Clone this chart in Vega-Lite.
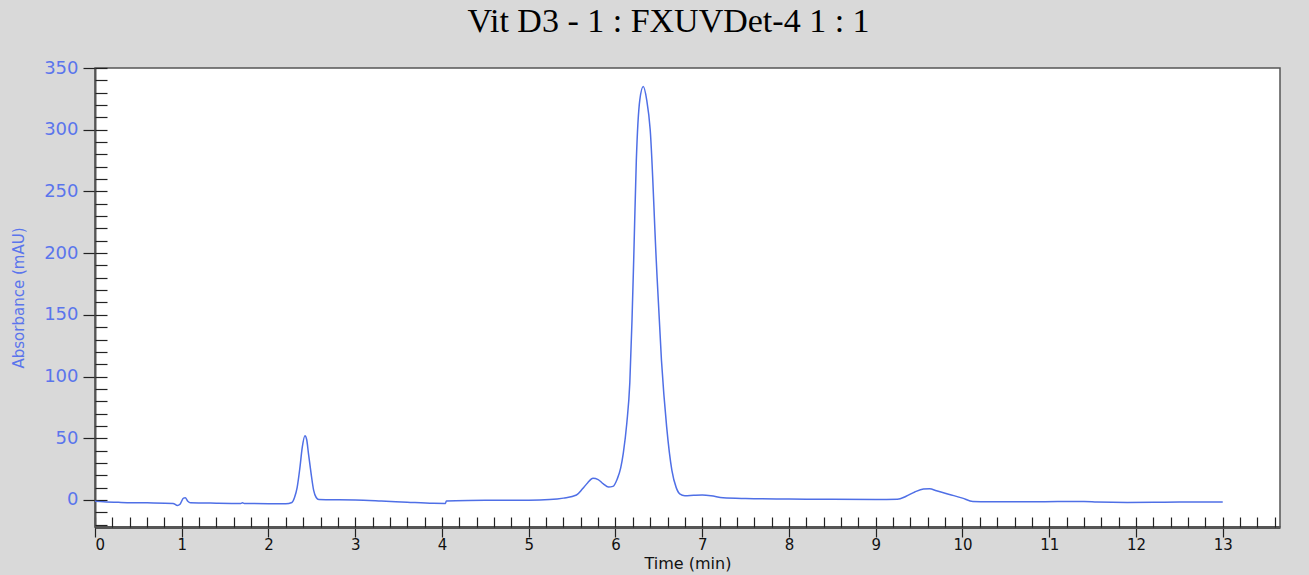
{
  "$schema": "https://vega.github.io/schema/vega-lite/v6.json",
  "width": 1185,
  "height": 459,
  "autosize": {"type": "none"},
  "padding": {"left": 95, "top": 68, "right": 29, "bottom": 48},
  "background": "#d9d9d9",
  "title": {"text": "Vit D3 - 1 : FXUVDet-4 1 : 1", "font": "Liberation Serif", "fontSize": 34, "fontWeight": "normal", "color": "#000000", "offset": 20, "dx": -19, "anchor": "middle"},
  "config": {"view": {"fill": "white", "stroke": "#555555", "strokeWidth": 1.5}},
  "data": {"values": [
    {"t": 0.00, "y": -1.0}, {"t": 0.10, "y": -1.5}, {"t": 0.30, "y": -2.0}, {"t": 0.60, "y": -2.3},
    {"t": 0.90, "y": -2.8}, {"t": 0.95, "y": -4.5}, {"t": 0.98, "y": -3.5}, {"t": 1.02, "y": 1.5},
    {"t": 1.04, "y": 1.8}, {"t": 1.07, "y": -1.0}, {"t": 1.10, "y": -2.2}, {"t": 1.40, "y": -2.6},
    {"t": 1.68, "y": -2.8}, {"t": 1.70, "y": -2.3}, {"t": 1.72, "y": -2.8}, {"t": 2.00, "y": -3.0},
    {"t": 2.20, "y": -3.0}, {"t": 2.27, "y": -2.0}, {"t": 2.30, "y": 2}, {"t": 2.33, "y": 10},
    {"t": 2.36, "y": 25}, {"t": 2.39, "y": 43}, {"t": 2.42, "y": 52}, {"t": 2.44, "y": 49},
    {"t": 2.46, "y": 38}, {"t": 2.49, "y": 22}, {"t": 2.52, "y": 8}, {"t": 2.55, "y": 2},
    {"t": 2.58, "y": 0.3}, {"t": 2.70, "y": 0.2}, {"t": 3.00, "y": 0}, {"t": 3.30, "y": -0.8},
    {"t": 3.60, "y": -1.8}, {"t": 3.90, "y": -2.7}, {"t": 4.04, "y": -2.8}, {"t": 4.05, "y": -0.8},
    {"t": 4.30, "y": -0.4}, {"t": 4.60, "y": -0.3}, {"t": 5.00, "y": -0.2}, {"t": 5.24, "y": 0.3},
    {"t": 5.40, "y": 1.5}, {"t": 5.55, "y": 4}, {"t": 5.62, "y": 9}, {"t": 5.68, "y": 14},
    {"t": 5.74, "y": 17.5}, {"t": 5.80, "y": 16.5}, {"t": 5.86, "y": 13}, {"t": 5.92, "y": 10.5},
    {"t": 5.97, "y": 11}, {"t": 6.02, "y": 17}, {"t": 6.06, "y": 26}, {"t": 6.09, "y": 38},
    {"t": 6.13, "y": 62}, {"t": 6.165, "y": 95}, {"t": 6.19, "y": 145}, {"t": 6.21, "y": 195},
    {"t": 6.24, "y": 275}, {"t": 6.28, "y": 324}, {"t": 6.32, "y": 335}, {"t": 6.36, "y": 324},
    {"t": 6.40, "y": 300}, {"t": 6.47, "y": 194}, {"t": 6.53, "y": 113}, {"t": 6.59, "y": 59},
    {"t": 6.65, "y": 24}, {"t": 6.70, "y": 10}, {"t": 6.74, "y": 5.0}, {"t": 6.80, "y": 3.5},
    {"t": 6.90, "y": 3.8}, {"t": 7.00, "y": 4.0}, {"t": 7.10, "y": 3.5}, {"t": 7.24, "y": 1.8},
    {"t": 7.50, "y": 1.2}, {"t": 8.00, "y": 0.8}, {"t": 8.50, "y": 0.5}, {"t": 9.00, "y": 0.3},
    {"t": 9.25, "y": 0.5}, {"t": 9.35, "y": 3}, {"t": 9.45, "y": 6.5}, {"t": 9.55, "y": 8.8},
    {"t": 9.62, "y": 9}, {"t": 9.70, "y": 7.5}, {"t": 9.85, "y": 4.5}, {"t": 10.00, "y": 1.5},
    {"t": 10.12, "y": -1.2}, {"t": 10.30, "y": -1.5}, {"t": 10.80, "y": -1.5}, {"t": 11.10, "y": -1.2},
    {"t": 11.40, "y": -1.2}, {"t": 11.55, "y": -1.6}, {"t": 11.90, "y": -2.0}, {"t": 12.20, "y": -1.9},
    {"t": 12.50, "y": -1.6}, {"t": 13.00, "y": -1.6}
  ]},
  "layer": [
    {
      "mark": {"type": "line", "color": "#4f6fe6", "strokeWidth": 1.5, "interpolate": "monotone", "clip": true},
      "encoding": {
        "x": {"field": "t", "type": "quantitative", "scale": {"domain": [0, 13.66], "nice": false, "zero": false},
          "axis": {"orient": "bottom", "title": "Time (min)", "values": [0,1,2,3,4,5,6,7,8,9,10,11,12,13], "tickSize": 10, "tickColor": "#222222", "tickWidth": 1.2,
            "domainColor": "#555555", "domainWidth": 3, "grid": false, "labelFont": "DejaVu Sans", "labelFontSize": 15, "labelColor": "#111111", "labelPadding": 0,
            "titleFont": "DejaVu Sans", "titleFontSize": 16, "titleFontWeight": "normal", "titleColor": "#111111", "titlePadding": 3}},
        "y": {"field": "y", "type": "quantitative", "scale": {"domain": [-21.9, 350], "nice": false, "zero": false},
          "axis": {"orient": "left", "title": "Absorbance (mAU)", "values": [0,50,100,150,200,250,300,350], "tickSize": 12, "tickColor": "#222222", "tickWidth": 1.2,
            "domainColor": "#555555", "domainWidth": 2, "grid": false, "labelFont": "DejaVu Sans", "labelFontSize": 18, "labelColor": "#5b75ec", "labelPadding": 5,
            "titleFont": "DejaVu Sans", "titleFontSize": 15, "titleFontWeight": "normal", "titleColor": "#5b75ec", "titlePadding": 17}}
      }
    },
    {
      "mark": {"type": "line", "opacity": 0},
      "encoding": {
        "x": {"field": "t", "type": "quantitative",
          "axis": {"orient": "bottom", "title": null, "labels": false, "domain": false, "grid": false, "tickSize": -10, "tickColor": "#222222", "tickWidth": 1.2,
            "values": [0,0.2,0.4,0.6,0.8,1,1.2,1.4,1.6,1.8,2,2.2,2.4,2.6,2.8,3,3.2,3.4,3.6,3.8,4,4.2,4.4,4.6,4.8,5,5.2,5.4,5.6,5.8,6,6.2,6.4,6.6,6.8,7,7.2,7.4,7.6,7.8,8,8.2,8.4,8.6,8.8,9,9.2,9.4,9.6,9.8,10,10.2,10.4,10.6,10.8,11,11.2,11.4,11.6,11.8,12,12.2,12.4,12.6,12.8,13,13.2,13.4,13.6]}},
        "y": {"field": "y", "type": "quantitative",
          "axis": {"orient": "left", "title": null, "labels": false, "domain": false, "grid": false, "tickSize": -12, "tickColor": "#222222", "tickWidth": 1.2,
            "values": [-20,-10,0,10,20,30,40,50,60,70,80,90,100,110,120,130,140,150,160,170,180,190,200,210,220,230,240,250,260,270,280,290,300,310,320,330,340,350]}}
      }
    }
  ],
  "resolve": {"axis": {"x": "independent", "y": "independent"}}
}
